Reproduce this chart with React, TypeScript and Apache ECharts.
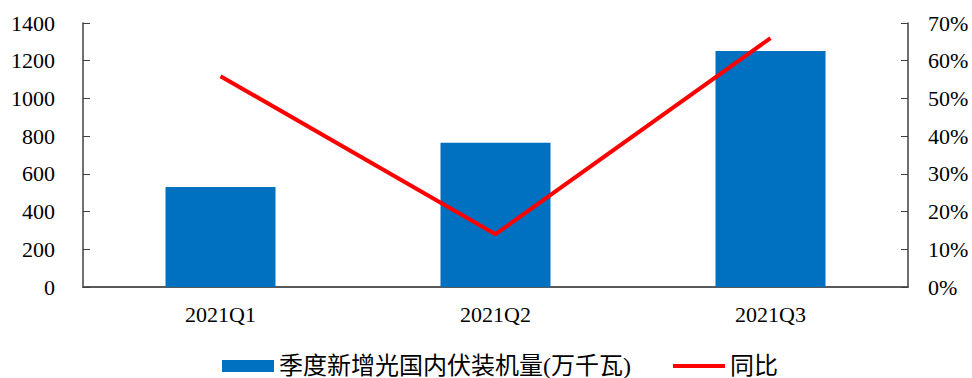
import React, { useEffect, useRef } from "react";
import * as echarts from "echarts";

const categories = ["2021Q1", "2021Q2", "2021Q3"];
const installed = [530, 765, 1252];
const yoy = [55.9, 14.0, 66.0];
const leftTicks = [0, 200, 400, 600, 800, 1000, 1200, 1400];
const rightTicks = [0, 10, 20, 30, 40, 50, 60, 70];
const barName = "季度新增光国内伏装机量(万千瓦)";
const lineName = "同比";

export default function App() {
  const ref = useRef<HTMLDivElement>(null);
  useEffect(() => {
    document.body.style.margin = "0";
    const chart = echarts.init(ref.current!, null, { renderer: "svg" });
    const serif = "'Liberation Serif'";
    const legendFont = "'Liberation Serif', 'Noto Sans CJK SC'";
    chart.setOption({
      animation: false,
      grid: { left: 83, right: 64, top: 23, bottom: 91, containLabel: false },
      legend: {
        left: 217,
        top: 349,
        itemWidth: 52,
        itemHeight: 12,
        itemGap: 42,
        textStyle: { fontFamily: legendFont, fontSize: 24, color: "#000" },
        data: [
          { name: barName, icon: "rect" },
          { name: lineName, icon: "path://M0,0 L52,0 L52,4 L0,4 Z", itemStyle: { color: "#FF0000" } },
        ],
      },
      xAxis: {
        type: "category",
        data: categories,
        axisLine: { lineStyle: { color: "#595959", width: 2 } },
        axisTick: { inside: true, length: 7, lineStyle: { color: "#595959" } },
        axisLabel: { fontFamily: serif, fontSize: 22, color: "#000", margin: 16 },
      },
      yAxis: [
        {
          type: "value",
          min: leftTicks[0],
          max: leftTicks[leftTicks.length - 1],
          interval: leftTicks[1] - leftTicks[0],
          splitLine: { show: false },
          axisLine: { show: true, lineStyle: { color: "#404040", width: 1.5 } },
          axisTick: { show: true, inside: true, length: 7, lineStyle: { color: "#404040" } },
          axisLabel: {
            fontFamily: serif,
            fontSize: 22,
            color: "#000",
            margin: 28,
            formatter: (v: number) => String(v),
          },
        },
        {
          type: "value",
          min: rightTicks[0],
          max: rightTicks[rightTicks.length - 1],
          interval: rightTicks[1] - rightTicks[0],
          splitLine: { show: false },
          axisLine: { show: true, lineStyle: { color: "#404040", width: 1.5 } },
          axisTick: { show: true, inside: true, length: 7, lineStyle: { color: "#404040" } },
          axisLabel: {
            fontFamily: serif,
            fontSize: 22,
            color: "#000",
            margin: 20,
            formatter: (v: number) => v + "%",
          },
        },
      ],
      series: [
        {
          name: barName,
          type: "bar",
          data: installed,
          barWidth: "40%",
          itemStyle: { color: "#0070C0" },
        },
        {
          name: lineName,
          type: "line",
          yAxisIndex: 1,
          data: yoy,
          symbol: "none",
          lineStyle: { color: "#FF0000", width: 4 },
          itemStyle: { color: "#FF0000" },
        },
      ],
    });
    return () => chart.dispose();
  }, []);
  return <div ref={ref} style={{ width: 972, height: 378 }} />;
}
